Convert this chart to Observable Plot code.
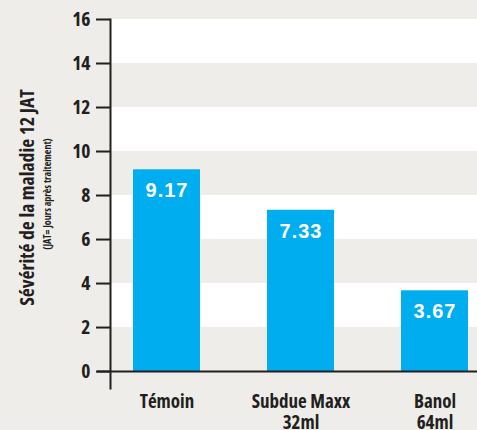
<!DOCTYPE html>
<html><head><meta charset="utf-8">
<script src="https://cdn.jsdelivr.net/npm/d3@7"></script>
<script src="https://cdn.jsdelivr.net/npm/@observablehq/plot@0.6"></script>
<style>
html,body{margin:0;padding:0;background:#eeede9;}
svg text{font-stretch:75%;}
svg .vals text{font-stretch:100%;letter-spacing:1px;}
</style></head><body><div id="chart"></div>
<script>
const categories = ["Témoin", "Subdue Maxx\n32ml", "Banol\n64ml"];
const values = [9.17, 7.33, 3.67];
const valueLabels = ["9.17", "7.33", "3.67"];
const yTicks = [0, 2, 4, 6, 8, 10, 12, 14, 16];
const yTitle = "Sévérité de la maladie 12 JAT";
const ySubtitle = "(JAT= Jours après traitement)";

const data = categories.map((c, i) => ({category: c, value: values[i], label: valueLabels[i]}));
const bands = yTicks.slice(0, -1).map((t, i) => ({y1: t, y2: yTicks[i + 1], white: i % 2 === 1}));

const condensed = '"Open Sans", sans-serif';
const ink = "#231f20";

const plot = Plot.plot({
  width: 477, height: 430,
  marginLeft: 110, marginRight: 0, marginTop: 19, marginBottom: 42,
  style: {background: "#eeede9", fontFamily: condensed, color: ink, overflow: "visible"},
  x: {domain: categories, range: [132, 468], paddingInner: 0.5, paddingOuter: 0, label: null},
  y: {domain: [-0.77, 16], label: null},
  marks: [
    Plot.rect(bands.filter(d => d.white), {y1: "y1", y2: "y2", fill: "white"}),
    Plot.barY(data, {x: "category", y: "value", fill: "#00adee"}),
    Plot.text(data, {x: "category", y: "value", text: "label", dy: 21, fill: "white",
      fontSize: 20, fontWeight: "bold", fontFamily: '"Liberation Sans", Arial, sans-serif', className: "vals"}),
    Plot.ruleY([0], {stroke: ink, strokeWidth: 2, insetLeft: -13}),
    Plot.frame({anchor: "left", stroke: ink, strokeWidth: 2}),
    Plot.axisY({ticks: yTicks, tickSize: 14, tickPadding: 6, fontSize: 19.5, fontWeight: "bold",
      label: null, stroke: ink, strokeWidth: 2, fill: ink}),
    Plot.axisX({tickSize: 0, tickPadding: 5, fontSize: 19, fontWeight: "bold", lineHeight: 1.1,
      label: null, fill: ink}),
    Plot.text([yTitle], {text: d => d, frameAnchor: "left", textAnchor: "middle", rotate: -90,
      dx: -83, dy: -6.5, fontSize: 19.7, fontWeight: "bold", fill: ink}),
    Plot.text([ySubtitle], {text: d => d, frameAnchor: "left", textAnchor: "middle", rotate: -90,
      dx: -63, dy: -10, fontSize: 10, fontWeight: "bold", fill: ink})
  ]
});
document.getElementById("chart").appendChild(plot);
</script></body></html>
